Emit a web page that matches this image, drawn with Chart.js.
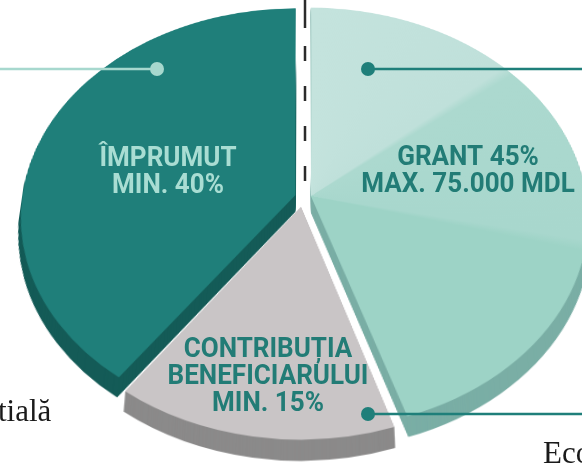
<!DOCTYPE html>
<html lang="ro">
<head>
<meta charset="utf-8">
<title>Structura finanțării</title>
<script src="https://cdn.jsdelivr.net/npm/chart.js@4/dist/chart.umd.min.js"></script>
<style>
  html, body { margin: 0; padding: 0; background: #fff; overflow: hidden; }
  #scena { position: relative; width: 582px; height: 464px; overflow: hidden; }
  /* Placa plăcintei e înclinată în perspectivă; textele stau pe un strat separat. */
  #grafic {
    position: absolute; left: -47px; top: -153px;
    transform-origin: 350px 350px;
    transform: perspective(1697px) rotateX(40.8deg);
  }
  #texte { position: absolute; left: 0; top: 0; }
</style>
</head>
<body>
<div id="scena">
  <canvas id="grafic" width="700" height="700"></canvas>
  <canvas id="texte" width="582" height="464"></canvas>
</div>
<script>
// Datele graficului (în ordinea desenării, din vârf, în sensul acelor de ceasornic).
const categorii = ["Grant", "Contribuția beneficiarului", "Împrumut"];
const procente = [45, 15, 40];

// Textele din interiorul feliilor.
const eticheteGrant = ["GRANT 45%", "MAX. 75.000 MDL"];
const eticheteContributie = ["CONTRIBUȚIA", "BENEFICIARULUI", "MIN. 15%"];
const eticheteImprumut = ["ÎMPRUMUT", "MIN. 40%"];

// Fragmente de text din pagina din jur (tăiate de margini).
const textStanga = "tială";
const textDreapta = "Eco";

// Culori: fața de sus și partea laterală.
const culoriFata = ["#a6d8cd", "#c9c5c6", "#1f7f7a"];
const culoriLaterale = ["#7aaea5", "#8b8a8a", "#145b57"];
const decalaje = [32, 52, 32];

const ADANCIME = 22;          // grosimea plăcii (în planul plăcintei)
const PERSPECTIVA = 1697;     // la fel ca în CSS
const UNGHI = 40.8 * Math.PI / 180;
const CX = 303, CY = 197;     // centrul plăcintei pe pagină

// Din coordonate de pe pagină în coordonate din planul plăcintei (relative la centru).
function inPlan(X, Y) {
  const dx = X - CX, dy = Y - CY;
  const y = dy * PERSPECTIVA / (PERSPECTIVA * Math.cos(UNGHI) + dy * Math.sin(UNGHI));
  const x = dx * (PERSPECTIVA - y * Math.sin(UNGHI)) / PERSPECTIVA;
  return [x, y];
}

// Gradient conic pentru grant: trei fațete care pornesc din vârful feliei.
function gradientGrant(chart) {
  const area = chart.chartArea;
  if (!area) return culoriFata[0];
  const ox = (area.left + area.right) / 2, oy = (area.top + area.bottom) / 2;
  const [vx, vy] = inPlan(311, 196);
  const unghi = (X, Y) => {
    const [x, y] = inPlan(X, Y);
    const a = Math.atan2(y - vy, x - vx) + Math.PI / 2;
    return (a + Math.PI * 2) % (Math.PI * 2) / (Math.PI * 2);
  };
  const t1 = unghi(510, 70), t2 = unghi(582, 245);
  const g = chart.ctx.createConicGradient(-Math.PI / 2, ox, oy);
  g.addColorStop(0, "#c4e3dd");
  g.addColorStop(t1 - 0.004, "#bfe0da");
  g.addColorStop(t1 + 0.004, "#acd9cf");
  g.addColorStop(t2 - 0.004, "#a8d7cd");
  g.addColorStop(t2 + 0.004, "#9dd3c6");
  g.addColorStop(1, "#9dd3c6");
  return g;
}

function deseneazaTexte() {
  const ctx = document.getElementById("texte").getContext("2d");
  ctx.clearRect(0, 0, 582, 464);

  // Linia punctată verticală de deasupra centrului.
  ctx.save();
  ctx.strokeStyle = "#2b2b2b";
  ctx.lineWidth = 2.5;
  ctx.beginPath();
  ctx.moveTo(CX + 2, 0);
  ctx.lineTo(CX + 2, 28);
  ctx.stroke();
  ctx.setLineDash([15, 25]);
  ctx.beginPath();
  ctx.moveTo(CX + 2, 46);
  ctx.lineTo(CX + 2, CY + 8);
  ctx.stroke();
  ctx.restore();

  // Linii de legătură cu buline.
  const linie = (x1, x2, y, xb, culoare) => {
    ctx.save();
    ctx.strokeStyle = culoare;
    ctx.fillStyle = culoare;
    ctx.lineWidth = 2.5;
    ctx.beginPath();
    ctx.moveTo(x1, y);
    ctx.lineTo(x2, y);
    ctx.stroke();
    ctx.beginPath();
    ctx.arc(xb, y, 7, 0, Math.PI * 2);
    ctx.fill();
    ctx.restore();
  };
  linie(0, CX - 147, CY - 128, CX - 146, "#a7d8ce");
  linie(CX + 65, 582, CY - 128, CX + 65, "#1f7f7a");
  linie(CX + 65, 582, CY + 217, CX + 65, "#1f7f7a");

  // Textele din felii.
  const bloc = (linii, x, y, culoare) => {
    ctx.save();
    ctx.fillStyle = culoare;
    ctx.font = "bold 28px Roboto, 'DejaVu Sans', sans-serif";
    ctx.textAlign = "center";
    ctx.textBaseline = "middle";
    linii.forEach((t, k) => {
      ctx.save();
      ctx.translate(x, y + k * 27);
      ctx.scale(0.93, 1);
      ctx.fillText(t, 0, 0);
      ctx.restore();
    });
    ctx.restore();
  };
  bloc(eticheteImprumut, CX - 135, CY - 38, "#a9ddd3");
  bloc(eticheteGrant, CX + 165, CY - 39, "#227c76");
  bloc(eticheteContributie, CX - 35, CY + 153, "#227c76");

  // Fragmentele de text de la margini.
  ctx.save();
  ctx.fillStyle = "#1a1a1a";
  ctx.font = "31px 'Liberation Serif', 'Times New Roman', serif";
  ctx.textAlign = "left";
  ctx.fillText(textStanga, -2, 421);
  ctx.fillText(textDreapta, 543, 463);
  ctx.restore();
}

const pluginPlaca = {
  id: "placa",
  beforeDatasetsDraw(chart) {
    const ctx = chart.ctx;
    const arce = chart.getDatasetMeta(0).data;
    // Grosimea: copii ale feliilor, deplasate spre privitor, în culoarea laterală.
    for (let d = ADANCIME; d >= 1; d--) {
      arce.forEach((arc, i) => {
        const orig = arc.options;
        arc.options = Object.assign({}, orig, { backgroundColor: culoriLaterale[i], borderWidth: 0 });
        ctx.save();
        ctx.translate(0, d);
        arc.draw(ctx);
        ctx.restore();
        arc.options = orig;
      });
    }
  },
  afterDraw() {
    deseneazaTexte();
  }
};

new Chart(document.getElementById("grafic"), {
  type: "pie",
  data: {
    labels: categorii,
    datasets: [{
      data: procente,
      backgroundColor: (c) => (c.dataIndex === 0 ? gradientGrant(c.chart) : culoriFata[c.dataIndex]),
      borderWidth: 0,
      offset: decalaje,
      radius: 270,
      clip: false,
    }],
  },
  options: {
    responsive: false,
    animation: false,
    events: [],
    layout: { padding: 0 },
    plugins: {
      legend: { display: false },
      tooltip: { enabled: false },
    },
  },
  plugins: [pluginPlaca],
});
</script>
</body>
</html>
